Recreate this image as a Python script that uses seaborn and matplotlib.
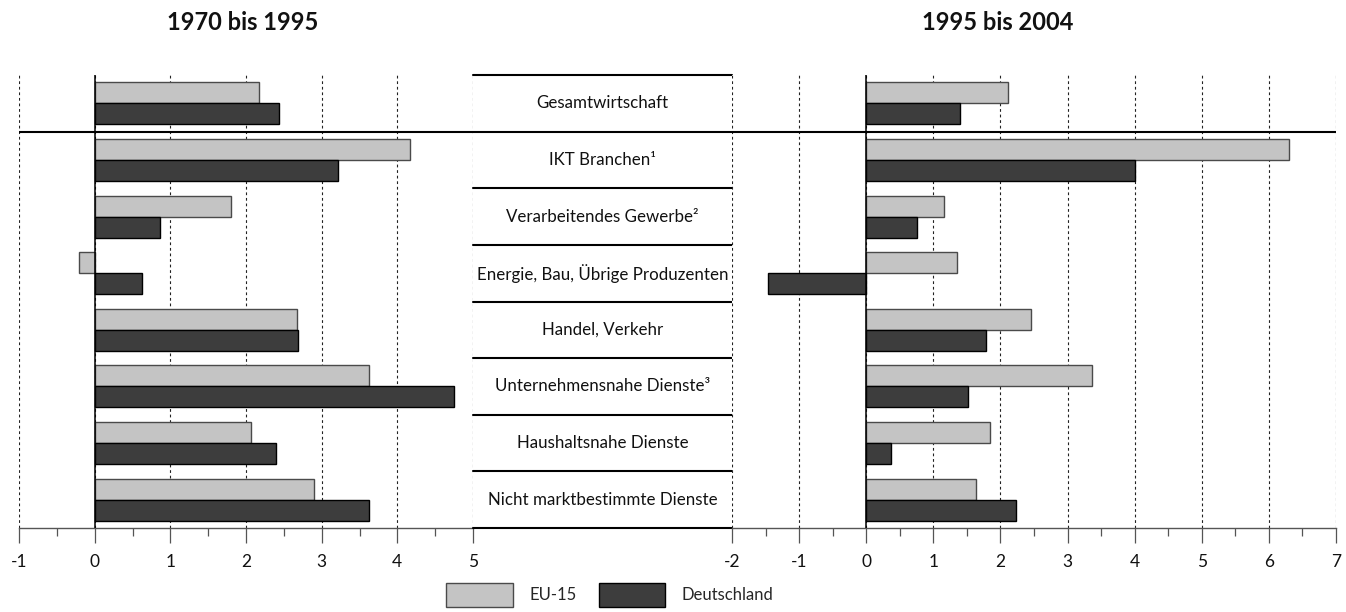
import matplotlib
matplotlib.use("Agg")
import matplotlib.pyplot as plt
import seaborn as sns
import pandas as pd
from matplotlib.patches import Patch
from matplotlib.ticker import MultipleLocator, FuncFormatter

# ---------------- data ----------------
categories = [
    "Gesamtwirtschaft",
    "IKT Branchen¹",
    "Verarbeitendes Gewerbe²",
    "Energie, Bau, Übrige Produzenten",
    "Handel, Verkehr",
    "Unternehmensnahe Dienste³",
    "Haushaltsnahe Dienste",
    "Nicht marktbestimmte Dienste",
]
series = ["EU-15", "Deutschland"]
titles = ["1970 bis 1995", "1995 bis 2004"]

eu_1970 = [2.17, 4.17, 1.80, -0.21, 2.67, 3.63, 2.07, 2.90]
de_1970 = [2.44, 3.22, 0.86, 0.63, 2.69, 4.75, 2.39, 3.62]
eu_1995 = [2.12, 6.30, 1.16, 1.35, 2.46, 3.36, 1.85, 1.64]
de_1995 = [1.40, 4.00, 0.75, -1.46, 1.78, 1.52, 0.37, 2.23]

left_ticks = [-1, 0, 1, 2, 3, 4, 5]
right_ticks = [-2, -1, 0, 1, 2, 3, 4, 5, 6, 7]

colors = ["#c4c4c4", "#3d3d3d"]
edge_colors = ["#4a4a4a", "#000000"]

# ---------------- style ----------------
sns.set_theme(style="white")
plt.rcParams["font.family"] = ["Lato", "DejaVu Sans"]
plt.rcParams["axes.unicode_minus"] = False

W, H = 1346, 612
fig = plt.figure(figsize=(W / 100, H / 100), dpi=100)

top_px, bot_px = 75, 528
yb = (H - bot_px) / H
yh = (bot_px - top_px) / H


def fx(px):
    return px / W


axL = fig.add_axes([fx(19), yb, fx(473 - 19), yh])
axM = fig.add_axes([fx(473), yb, fx(732 - 473), yh])
axR = fig.add_axes([fx(732), yb, fx(1336 - 732), yh])


def long_df(eu, de):
    return pd.DataFrame({
        "Kategorie": categories * 2,
        "Reihe": [series[0]] * len(categories) + [series[1]] * len(categories),
        "Wert": list(eu) + list(de),
    })


def draw(ax, df, ticks):
    sns.barplot(data=df, x="Wert", y="Kategorie", hue="Reihe",
                order=categories, hue_order=series, palette=colors,
                orient="h", width=0.74, gap=0, saturation=1,
                linewidth=1.0, edgecolor="black", legend=False,
                errorbar=None, ax=ax, zorder=3)
    for cont, ec in zip(ax.containers, edge_colors):
        for p in cont:
            p.set_edgecolor(ec)
    ax.set_xlim(ticks[0], ticks[-1])
    ax.set_ylim(len(categories) - 0.5, -0.5)
    ax.xaxis.set_major_locator(MultipleLocator(1))
    ax.xaxis.set_minor_locator(MultipleLocator(0.5))
    ax.xaxis.set_major_formatter(FuncFormatter(lambda v, p: f"{v:.0f}"))
    ax.grid(axis="x", which="major", color="#222222",
            linestyle=(0, (2.5, 2.5)), linewidth=0.8)
    ax.set_axisbelow(True)
    ax.axvline(0, color="black", lw=1.1, zorder=4)
    ax.axhline(0.5, color="black", lw=1.5, zorder=5)
    for s in ["top", "left", "right"]:
        ax.spines[s].set_visible(False)
    ax.spines["bottom"].set_color("#555555")
    ax.spines["bottom"].set_linewidth(1.0)
    ax.tick_params(axis="x", which="major", direction="out", length=11,
                   width=0.9, color="#555555", pad=8, labelsize=12.5,
                   labelcolor="#111111", bottom=True)
    ax.tick_params(axis="x", which="minor", direction="out", length=6,
                   width=0.9, color="#555555", bottom=True)
    ax.tick_params(axis="y", left=False, labelleft=False)
    ax.set_xlabel("")
    ax.set_ylabel("")


draw(axL, long_df(eu_1970, de_1970), left_ticks)
draw(axR, long_df(eu_1995, de_1995), right_ticks)

# middle label box
axM.set_xlim(0, 1)
axM.set_ylim(len(categories) - 0.5, -0.5)
axM.axis("off")
for i in range(len(categories) + 1):
    axM.axhline(i - 0.5, color="black", lw=1.5, clip_on=False)
for i, c in enumerate(categories):
    axM.text(0.5, i, c, ha="center", va="center", fontsize=12.2,
             color="#111111")

# titles
fig.text(fx(243), 1 - 22 / H, titles[0], ha="center", va="center",
         fontsize=17, fontweight="bold", color="#111111")
fig.text(fx(998), 1 - 22 / H, titles[1], ha="center", va="center",
         fontsize=17, fontweight="bold", color="#111111")

# legend
handles = [Patch(facecolor=colors[0], edgecolor=edge_colors[0], lw=1),
           Patch(facecolor=colors[1], edgecolor=edge_colors[1], lw=1)]
fig.legend(handles=handles, labels=series, loc="center",
           bbox_to_anchor=(fx(610), 17 / H), ncol=2, frameon=False,
           fontsize=12, handlelength=4.0, handleheight=1.8,
           handletextpad=1.0, columnspacing=1.3, borderpad=0,
           borderaxespad=0)

fig.savefig("out.png", dpi=100)
